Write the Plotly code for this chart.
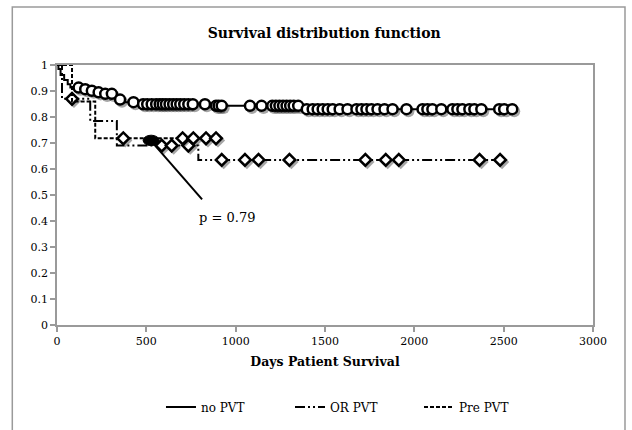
import numpy as np
import plotly.graph_objects as go

# ---- Kaplan-Meier style step data (days, survival) ----
# no PVT
nopvt_event_days = [0, 8, 20, 40, 60, 75, 140, 175, 215, 250, 320, 345, 380, 450, 860, 1370]
nopvt_surv = [1.0, 0.985, 0.962, 0.942, 0.926, 0.913, 0.907, 0.901, 0.895, 0.889, 0.876, 0.867, 0.857, 0.849, 0.843, 0.830]
nopvt_censored = [121, 158, 195, 233, 270, 307, 353, 428, 482, 505, 530, 555, 575, 592, 610, 630,
                  650, 670, 690, 712, 735, 760, 828, 890, 905, 922, 1080, 1145, 1205, 1225, 1245,
                  1265, 1285, 1305, 1325, 1350, 1398, 1431, 1459, 1487, 1515, 1543, 1582, 1626,
                  1676, 1704, 1732, 1760, 1794, 1833, 1878, 1956, 2046, 2073, 2101, 2151, 2213,
                  2241, 2269, 2308, 2336, 2375, 2475, 2503, 2548]

# OR PVT
orpvt_event_days = [0, 28, 186, 335, 791]
orpvt_surv = [1.0, 0.87, 0.785, 0.69, 0.635]
orpvt_censored = [84, 586, 642, 735, 922, 1052, 1128, 1301, 1726, 1840, 1913, 2365, 2480]

# Pre PVT
prepvt_event_days = [0, 84, 214]
prepvt_surv = [1.0, 0.86, 0.718]
prepvt_censored = [371, 703, 763, 834, 890]

x_ticks = [0, 500, 1000, 1500, 2000, 2500, 3000]
y_ticks = [0, 0.1, 0.2, 0.3, 0.4, 0.5, 0.6, 0.7, 0.8, 0.9, 1]
y_tick_text = ["0", "0.1", "0.2", "0.3", "0.4", "0.5", "0.6", "0.7", "0.8", "0.9", "1"]

p_label = "p = 0.79"

SERIF = "DejaVu Serif"


def step_value(event_days, surv, t):
    i = np.searchsorted(np.asarray(event_days), t, side="right") - 1
    return surv[i]


def curve(event_days, surv, censored):
    end = max(max(censored), event_days[-1])
    xs = list(event_days) + [end]
    ys = list(surv) + [surv[-1]]
    cy = [step_value(event_days, surv, t) for t in censored]
    return xs, ys, cy


series = [
    ("no PVT", nopvt_event_days, nopvt_surv, nopvt_censored, "solid", "circle", 10),
    ("OR PVT", orpvt_event_days, orpvt_surv, orpvt_censored, "10px,3px,2px,3px,2px,3px", "diamond", 9),
    ("Pre PVT", prepvt_event_days, prepvt_surv, prepvt_censored, "4px,2px", "diamond", 9),
]

fig = go.Figure()

for name, ed, sv, cens, dash, sym, msize in series:
    xs, ys, cy = curve(ed, sv, cens)
    fig.add_trace(go.Scatter(
        x=xs, y=ys, mode="lines", name=name, line_shape="hv",
        line=dict(color="black", width=2, dash=dash), showlegend=True,
    ))
    # soft drop shadow under censor marks
    fig.add_trace(go.Scatter(
        x=[c + 11 for c in cens], y=[v - 0.008 for v in cy], mode="markers",
        marker=dict(symbol=sym, size=msize + 2, color="rgba(0,0,0,0.35)", line=dict(width=0)),
        showlegend=False, hoverinfo="skip",
    ))
    fig.add_trace(go.Scatter(
        x=cens, y=cy, mode="markers", name=name,
        marker=dict(symbol=sym, size=msize, color="white", line=dict(color="black", width=2.5)),
        showlegend=False,
    ))

# p-value pointer: filled ellipse with a leader line to the label
fig.add_shape(type="line", x0=530, y0=0.705, x1=812, y1=0.483, xref="x", yref="y",
              line=dict(color="black", width=2))
fig.add_shape(type="circle", x0=482, x1=572, y0=0.690, y1=0.730, xref="x", yref="y",
              fillcolor="black", line=dict(color="black", width=1))
fig.add_annotation(x=951, y=0.413, text=p_label, showarrow=False,
                   font=dict(family=SERIF, size=13, color="black"))

# outer chart frame
fig.add_shape(type="rect", xref="paper", yref="paper",
              x0=-0.0834, x1=1.0597, y0=-0.42, y1=1.223,
              line=dict(color="#9a9a9a", width=1.5), layer="below")

fig.update_layout(
    width=632, height=430,
    margin=dict(l=57, r=39, t=65, b=105, autoexpand=False),
    paper_bgcolor="white", plot_bgcolor="white",
    title=dict(text="<b>Survival distribution function</b>", x=0.513, xanchor="center",
               y=1 - 33 / 430, yanchor="middle",
               font=dict(family=SERIF, size=14, color="black")),
    font=dict(family=SERIF, size=12, color="black"),
    legend=dict(orientation="h", x=0.194, xanchor="left", y=-0.315, yanchor="middle",
                font=dict(family=SERIF, size=12, color="black"),
                entrywidth=84, entrywidthmode="pixels",
                bgcolor="rgba(0,0,0,0)"),
    showlegend=True,
)

fig.update_xaxes(
    range=[0, 3000], tickvals=x_ticks, ticktext=[str(v) for v in x_ticks],
    showgrid=False, zeroline=False, showline=True, linecolor="#9a9a9a", linewidth=1.5,
    mirror=True, ticks="outside", ticklen=5, tickcolor="#9a9a9a", tickwidth=1.5,
    tickfont=dict(family=SERIF, size=11, color="black"), automargin=False,
    title=dict(text="<b>Days Patient Survival</b>", standoff=10,
               font=dict(family=SERIF, size=12.5, color="black")),
)
fig.update_yaxes(
    range=[0, 1], tickvals=y_ticks, ticktext=y_tick_text,
    showgrid=False, zeroline=False, showline=True, linecolor="#9a9a9a", linewidth=1.5,
    mirror=True, ticks="outside", ticklen=5, tickcolor="#9a9a9a", tickwidth=1.5,
    tickfont=dict(family=SERIF, size=11, color="black"), automargin=False,
)

fig.write_html("out.html")
